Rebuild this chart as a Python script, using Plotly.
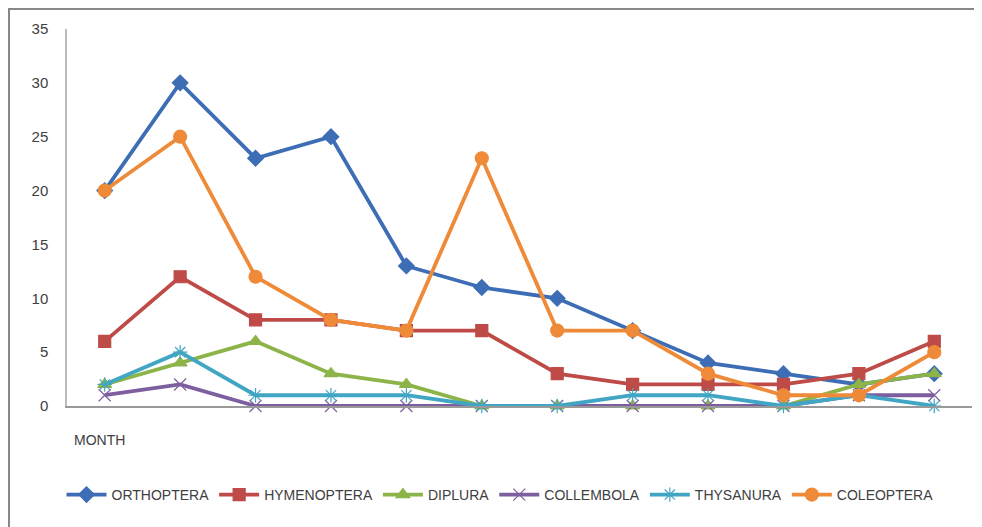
import plotly.graph_objects as go

months = [1, 2, 3, 4, 5, 6, 7, 8, 9, 10, 11, 12]
orthoptera = [20, 30, 23, 25, 13, 11, 10, 7, 4, 3, 2, 3]
hymenoptera = [6, 12, 8, 8, 7, 7, 3, 2, 2, 2, 3, 6]
diplura = [2, 4, 6, 3, 2, 0, 0, 0, 0, 0, 2, 3]
collembola = [1, 2, 0, 0, 0, 0, 0, 0, 0, 0, 1, 1]
thysanura = [2, 5, 1, 1, 1, 0, 0, 1, 1, 0, 1, 0]
coleoptera = [20, 25, 12, 8, 7, 23, 7, 7, 3, 1, 1, 5]
y_ticks = [0, 5, 10, 15, 20, 25, 30, 35]

series = [
    ("ORTHOPTERA", orthoptera, "#3D6DB5", "diamond", 12),
    ("HYMENOPTERA", hymenoptera, "#BE4B48", "square", 12),
    ("DIPLURA", diplura, "#8DB448", "triangle-up", 12),
    ("COLLEMBOLA", collembola, "#7D5FA0", "x-thin-open", 12),
    ("THYSANURA", thysanura, "#40A6C4", "asterisk-open", 12),
    ("COLEOPTERA", coleoptera, "#EE8A38", "circle", 13),
]

fig = go.Figure()
for name, vals, col, sym, size in series:
    fig.add_trace(go.Scatter(
        x=[str(m) for m in months], y=vals, name=name, mode="lines+markers",
        line=dict(color=col, width=3.8),
        marker=dict(symbol=sym, size=size, color=col, line=dict(color=col, width=1.2)),
        cliponaxis=False,
    ))

# page body has an 8px margin; work in figure coordinates = reference - 8
OFF = 8
W, H = 982 - OFF, 527 - OFF
L, R, T = 67 - OFF, 10, 29 - OFF
B = H - (406 - OFF)
pw, ph = W - L - R, H - T - B
y0px = 406 - OFF

def py(ref_y):
    return (y0px - (ref_y - OFF)) / ph

def px(ref_x):
    return ((ref_x - OFF) - L) / pw

fig.update_layout(
    width=W, height=H,
    margin=dict(l=L, r=R, t=T, b=B),
    paper_bgcolor="white", plot_bgcolor="white",
    font=dict(family="Liberation Sans Narrow, Liberation Sans, Arial", size=14, color="#404040"),
    showlegend=True,
    legend=dict(orientation="h", x=px(500), xanchor="center", y=py(495), yanchor="middle",
                font=dict(size=14, color="#404040"), itemwidth=40, tracegroupgap=0),
    xaxis=dict(type="category", range=[-0.5, 11.5], showticklabels=False, showgrid=False,
               zeroline=False, showline=True, linecolor="#999999", linewidth=1.5, ticks=""),
    yaxis=dict(range=[0, 35], tickvals=y_ticks, showgrid=False, zeroline=False,
               showline=True, linecolor="#BBBBBB", linewidth=1.5, ticks="",
               ticklabelstandoff=14, tickfont=dict(size=15, color="#404040")),
    annotations=[dict(text="MONTH", xref="paper", yref="paper", x=px(72), y=py(440),
                      xanchor="left", yanchor="middle", showarrow=False,
                      font=dict(size=14, color="#404040"))],
    shapes=[dict(type="rect", xref="paper", yref="paper",
                 x0=px(9), x1=px(1000), y0=py(560), y1=py(9),
                 line=dict(color="#888888", width=2), fillcolor="rgba(0,0,0,0)", layer="below")],
)

fig.write_html("out.html")
